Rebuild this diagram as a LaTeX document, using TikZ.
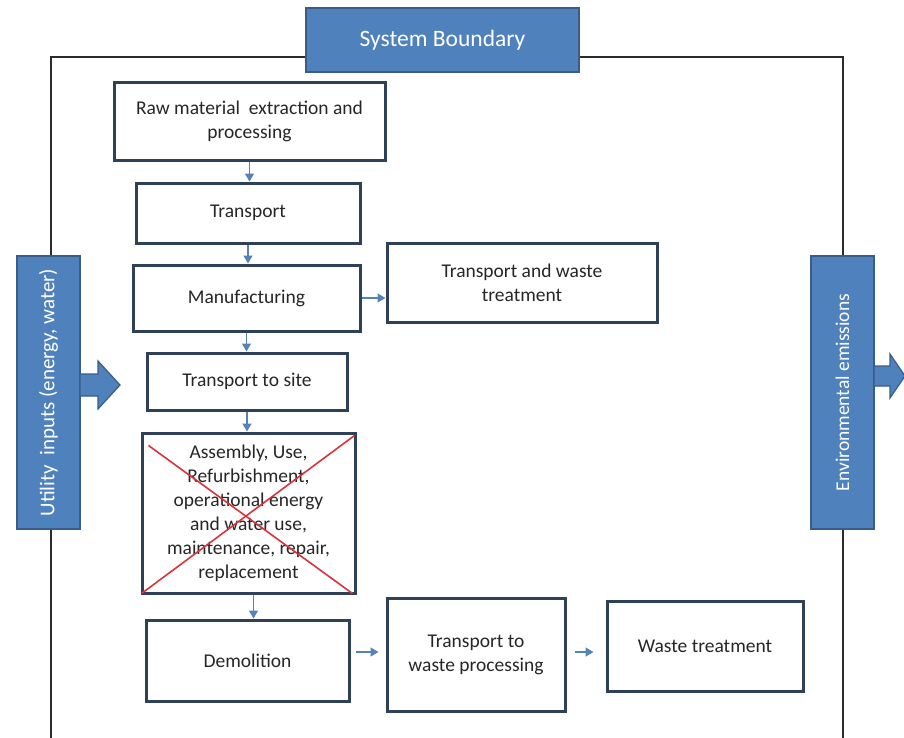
\documentclass[tikz,border=0pt]{standalone}
\usepackage{fontspec}
\setmainfont{Carlito}
\usetikzlibrary{arrows.meta}
\definecolor{boxline}{HTML}{2F4159}
\definecolor{bluefill}{HTML}{4F81BD}
\definecolor{blueline}{HTML}{385D8A}
\definecolor{flowc}{HTML}{5682B8}
\definecolor{txt}{HTML}{262626}
\definecolor{crossc}{HTML}{D9343C}
\definecolor{framec}{HTML}{2B2B2B}
\begin{document}
\begin{tikzpicture}[x=1pt,y=-1pt,
  procbox/.style={draw=boxline, line width=3pt, fill=white, inner sep=2pt,
    align=center, text=txt, font=\fontsize{19.5}{24}\selectfont},
  bluebox/.style={draw=blueline, line width=1.5pt, fill=bluefill, text=white,
    inner sep=0pt, align=center},
  blockarrow/.style={draw=blueline, line width=1.2pt, fill=bluefill},
  flow/.style={draw=flowc, line width=1.3pt, -{Triangle[length=8pt,width=9pt]}},
  crossline/.style={draw=crossc, line width=1.6pt},
  framel/.style={draw=framec, line width=1.8pt}
]
\useasboundingbox (0,0) rectangle (904,737);
\clip (0,0) rectangle (904,737);
\fill[white] (0,0) rectangle (904,737);

% system boundary frame
\draw[framel] (51,745) -- (51,57) -- (843,57) -- (843,745);

% header and side bars
\node[bluebox, minimum width=273pt, minimum height=64pt,
  font=\fontsize{23.5}{28}\selectfont] (sb) at (442.5,40) {System Boundary};
\node[bluebox, rotate=90, minimum width=273pt, minimum height=63pt,
  font=\fontsize{21}{24}\selectfont] (util) at (48.5,392.5) {Utility\ \ inputs (energy, water)};
\node[bluebox, rotate=90, minimum width=273pt, minimum height=63pt,
  font=\fontsize{19.5}{24}\selectfont] (env) at (842.5,392.5) {Environmental emissions};

% block arrows
\draw[blockarrow] (80,374) -- (98,374) -- (98,361) -- (120,385) -- (98,409) -- (98,396) -- (80,396) -- cycle;
\draw[blockarrow] (874,366) -- (890,366) -- (890,354) -- (905,376) -- (890,398) -- (890,386) -- (874,386) -- cycle;

% process boxes
\node[procbox, minimum width=271pt, minimum height=78pt] (raw) at (249.5,121)
  {Raw material\ \ extraction and\\processing};
\node[procbox, minimum width=224pt, minimum height=60pt] (transport) at (248,213) {Transport};
\node[procbox, minimum width=227pt, minimum height=66pt] (manuf) at (246.5,298) {Manufacturing};
\node[procbox, minimum width=270pt, minimum height=79pt] (tws) at (522,282.5)
  {Transport and waste\\treatment};
\node[procbox, minimum width=200pt, minimum height=57pt] (tsite) at (247,381.5) {Transport to site};
\node[procbox, minimum width=213pt, minimum height=160pt] (assem) at (248.5,513)
  {Assembly, Use,\\Refurbishment,\\operational energy\\and water use,\\maintenance, repair,\\replacement};
\node[procbox, minimum width=203pt, minimum height=81pt] (demol) at (247.5,660.5) {Demolition};
\node[procbox, minimum width=178pt, minimum height=113pt] (twp) at (476,654.5)
  {Transport to\\waste processing};
\node[procbox, minimum width=196pt, minimum height=90pt] (wt) at (705,646) {Waste treatment};

% red cross
\draw[crossline] ([shift={(8,14)}]assem.north west) -- ([shift={(-4,-1)}]assem.south east);
\draw[crossline] ([shift={(1,-1)}]assem.south west) -- ([shift={(-2,4)}]assem.north east);

% flow arrows
\draw[flow] (raw.south) -- (raw.south |- transport.north);
\draw[flow] (transport.south) -- (transport.south |- manuf.north);
\draw[flow] (manuf.south) -- (manuf.south |- tsite.north);
\draw[flow] (tsite.south) -- (tsite.south |- assem.north);
\draw[flow] ([xshift=5pt]assem.south) -- ([xshift=5pt]assem.south |- demol.north);
\draw[flow] (manuf.east) -- (manuf.east -| tws.west);
\coordinate (arrowy) at (0,652);
\draw[flow, shorten <=5pt, shorten >=7pt] (demol.east |- arrowy) -- (twp.west |- arrowy);
\draw[flow, shorten <=8pt, shorten >=12pt] (twp.east |- arrowy) -- (wt.west |- arrowy);
\end{tikzpicture}
\end{document}
